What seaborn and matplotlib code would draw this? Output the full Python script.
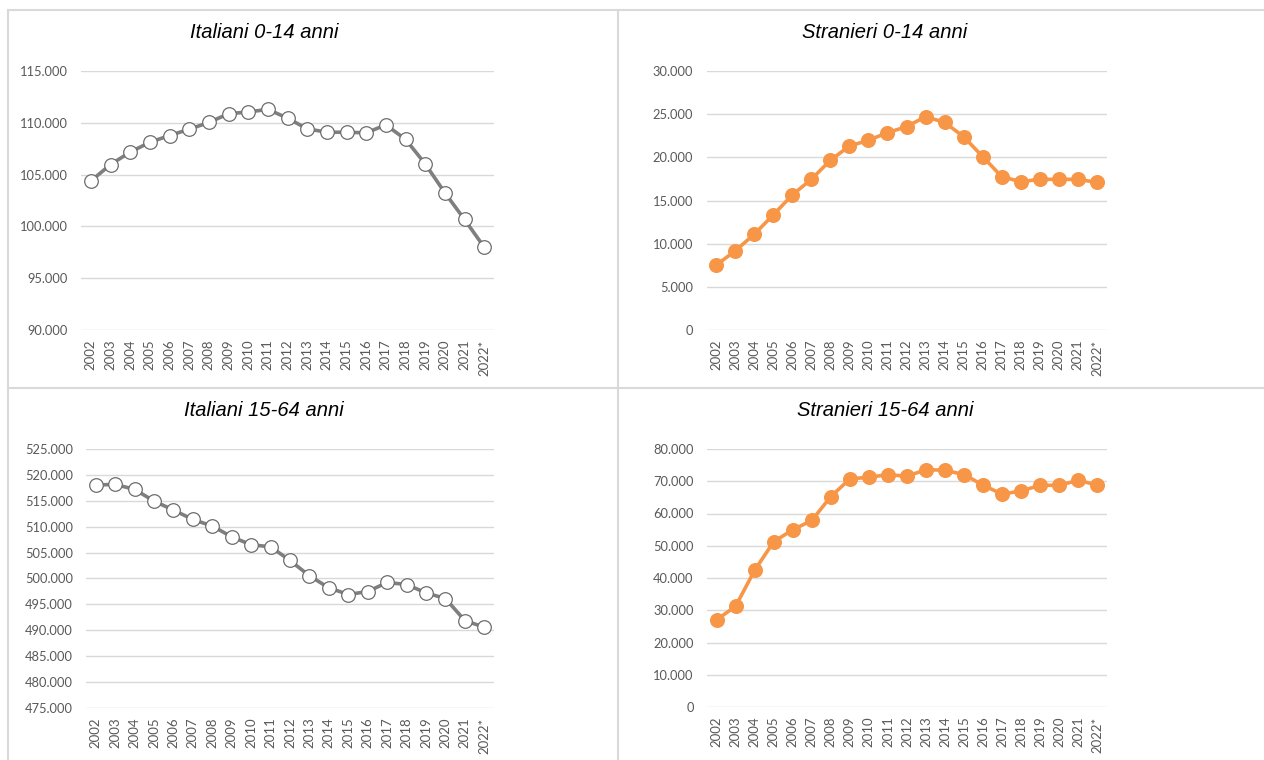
import matplotlib
matplotlib.use("Agg")
import matplotlib.pyplot as plt
from matplotlib.lines import Line2D
from matplotlib.ticker import FuncFormatter, MultipleLocator
import seaborn as sns
import pandas as pd

years = ["2002", "2003", "2004", "2005", "2006", "2007", "2008", "2009", "2010", "2011",
         "2012", "2013", "2014", "2015", "2016", "2017", "2018", "2019", "2020", "2021", "2022*"]

italiani_0_14 = [104380, 105970, 107170, 108120, 108770, 109380, 110030, 110880, 111040, 111300,
                 110450, 109420, 109090, 109090, 109030, 109800, 108410, 106040, 103250, 100670, 98000]
stranieri_0_14 = [7500, 9150, 11080, 13320, 15640, 17450, 19650, 21310, 21970, 22860,
                  23550, 24710, 24050, 22390, 20080, 17760, 17180, 17450, 17450, 17450, 17100]
italiani_15_64 = [518040, 518170, 517200, 514950, 513210, 511400, 510120, 508050, 506510, 506120,
                  503480, 500520, 498200, 496910, 497490, 499230, 498840, 497230, 496130, 491880, 490590]
stranieri_15_64 = [27010, 31240, 42370, 51240, 54950, 57840, 65260, 70720, 71240, 72060,
                   71550, 73610, 73400, 72060, 68760, 65980, 67010, 68760, 68760, 70310, 68760]

titles = ["Italiani 0-14 anni", "Stranieri 0-14 anni", "Italiani 15-64 anni", "Stranieri 15-64 anni"]

sns.set_theme(style="white")
plt.rcParams["font.family"] = ["Lato", "DejaVu Sans"]

W, H = 1264, 760
fig = plt.figure(figsize=(W / 100, H / 100), dpi=100)
fig.patch.set_facecolor("white")

def px_axes(x0, x1, y0, y1):
    return fig.add_axes([x0 / W, 1 - y1 / H, (x1 - x0) / W, (y1 - y0) / H])

GRAY = "#7f7f7f"
ORANGE = "#f79646"
panels = [
    dict(data=italiani_0_14, box=(81, 494, 71, 330), lim=(90000, 115000), step=5000,
         color=GRAY, face="white", title_xy=(264, 33)),
    dict(data=stranieri_0_14, box=(706.5, 1106.5, 71, 330), lim=(0, 30000), step=5000,
         color=ORANGE, face=ORANGE, title_xy=(885, 33)),
    dict(data=italiani_15_64, box=(86, 494, 449, 708), lim=(475000, 525000), step=5000,
         color=GRAY, face="white", title_xy=(264, 411)),
    dict(data=stranieri_15_64, box=(707, 1107, 449, 707), lim=(0, 80000), step=10000,
         color=ORANGE, face=ORANGE, title_xy=(885, 411)),
]

fmt = FuncFormatter(lambda v, p: f"{int(round(v)):,}".replace(",", "."))

for p, title in zip(panels, titles):
    ax = px_axes(*p["box"])
    df = pd.DataFrame({"anno": years, "valore": p["data"]})
    sns.lineplot(data=df, x="anno", y="valore", ax=ax, sort=False, color=p["color"],
                 linewidth=2.6, marker="o", markersize=9.8,
                 markerfacecolor=p["face"],
                 markeredgecolor="#6d6d6d" if p["face"] == "white" else ORANGE,
                 markeredgewidth=0.9 if p["face"] == "white" else 1.0, zorder=3)
    ax.set_xlim(-0.5, len(years) - 0.5)
    ax.set_ylim(*p["lim"])
    ax.yaxis.set_major_locator(MultipleLocator(p["step"]))
    ax.yaxis.set_major_formatter(fmt)
    ax.grid(axis="y", color="#d9d9d9", linewidth=1.0)
    ax.grid(axis="x", visible=False)
    for s in ax.spines.values():
        s.set_visible(False)
    ax.set_xlabel("")
    ax.set_ylabel("")
    ax.tick_params(axis="y", length=0, pad=9.5, labelsize=9.3, labelcolor="#595959")
    ax.tick_params(axis="x", length=0, pad=7, labelsize=9.5, labelcolor="#595959",
                   labelrotation=90)
    ax.set_facecolor("none")
    fig.text(p["title_xy"][0] / W, 1 - p["title_xy"][1] / H, title,
             ha="center", va="center", fontsize=14.5, style="italic",
             family=["Liberation Sans", "DejaVu Sans"], color="black")

# panel border lines
bc = "#d9d9d9"
for (x0, y0, x1, y1) in [(8, 10, 1264, 10), (8, 388, 1264, 388),
                         (8, 10, 8, 760), (618, 10, 618, 760)]:
    fig.add_artist(Line2D([x0 / W, x1 / W], [1 - y0 / H, 1 - y1 / H],
                          color=bc, linewidth=1.5))

fig.savefig("out.png", dpi=100, facecolor="white")
